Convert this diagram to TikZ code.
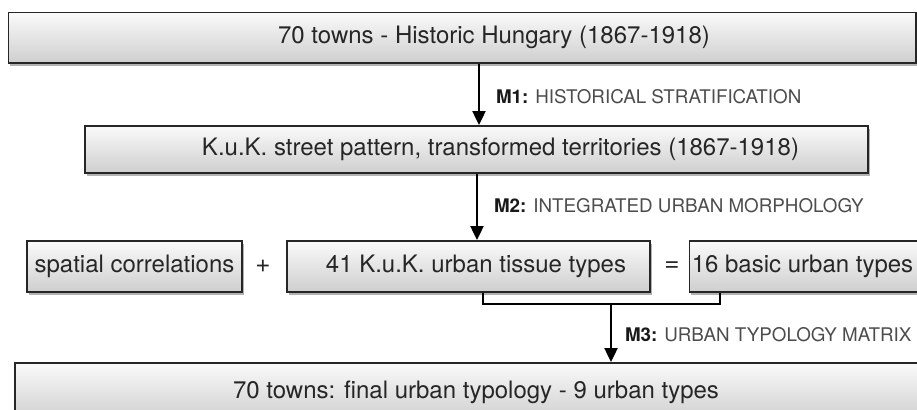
\documentclass[tikz,border=0pt]{standalone}
\usepackage{fontspec}
\setmainfont{TeX Gyre Heros}
\usetikzlibrary{arrows.meta,shadows}
\begin{document}
\begin{tikzpicture}[x=0.5pt,y=-0.5pt,
    box/.style={draw=black!85,line width=0.9pt,inner sep=0pt,top color=gray!4,bottom color=gray!38,
      drop shadow={shadow xshift=0.8pt,shadow yshift=-1.4pt,opacity=0.3,fill=black},
      text=black!85,font=\fontsize{12pt}{14pt}\selectfont},
    sign/.style={text=black!85,font=\fontsize{13pt}{15pt}\selectfont},
    flow/.style={line width=1pt,-{Triangle[length=7pt,width=6.5pt]}},
    joint/.style={line width=1pt},
    method/.style={anchor=west,inner sep=0pt,text=black!70,font=\fontsize{9.4pt}{11pt}\selectfont}]
      \useasboundingbox (0,0) rectangle (917,410);
      \node[box,minimum width=453.75pt,minimum height=25.25pt] (towns) at (462.25,37.75)
        {\hspace*{31.75pt}70 towns - Historic Hungary (1867-1918)};
      \node[box,minimum width=391.5pt,minimum height=23.5pt] (street) at (476.5,149.5)
        {\hspace*{24pt}K.u.K. street pattern, transformed territories (1867-1918)};
      \node[box,minimum width=107.5pt,minimum height=25.5pt] (spatial) at (134.5,266.5) {spatial correlations};
      \node[sign] (plus) at (263,266.5) {+};
      \node[box,minimum width=181.5pt,minimum height=25.5pt] (tissue) at (468.5,266.5)
        {\hspace*{7.5pt}41 K.u.K. urban tissue types};
      \node[sign] (equals) at (672,266.5) {=};
      \node[box,minimum width=123pt,minimum height=25.5pt] (basic) at (812.5,266.5)
        {16 basic urban types\hspace*{10pt}};
      \node[box,minimum width=461pt,minimum height=29pt] (final) at (476,392)
        {70 towns: final urban typology - 9 urban types};
      \coordinate (m1) at (479,0);
      \coordinate (m2) at (477,0);
      \coordinate (left) at (483,304);
      \coordinate (right) at (720,304);
      \coordinate (join) at (611,304);
      \draw[flow] (towns.south -| m1) -- (street.north -| m1)
        node[method,midway,xshift=8pt,yshift=-1.25pt] {\textcolor{black!90}{\textbf{M1:}} HISTORICAL STRATIFICATION};
      \draw[flow] (street.south -| m2) -- (tissue.north -| m2)
        node[method,midway,xshift=8pt,yshift=0.5pt] {\textcolor{black!90}{\textbf{M2:}} INTEGRATED URBAN MORPHOLOGY};
      \draw[joint] (tissue.south -| left) -- (left) -- (right) -- (basic.south -| right);
      \draw[flow] (join) -- (final.north -| join)
        node[method,midway,xshift=6.5pt,yshift=-1pt] {\textcolor{black!90}{\textbf{M3:}} URBAN TYPOLOGY MATRIX};
\end{tikzpicture}
\end{document}
